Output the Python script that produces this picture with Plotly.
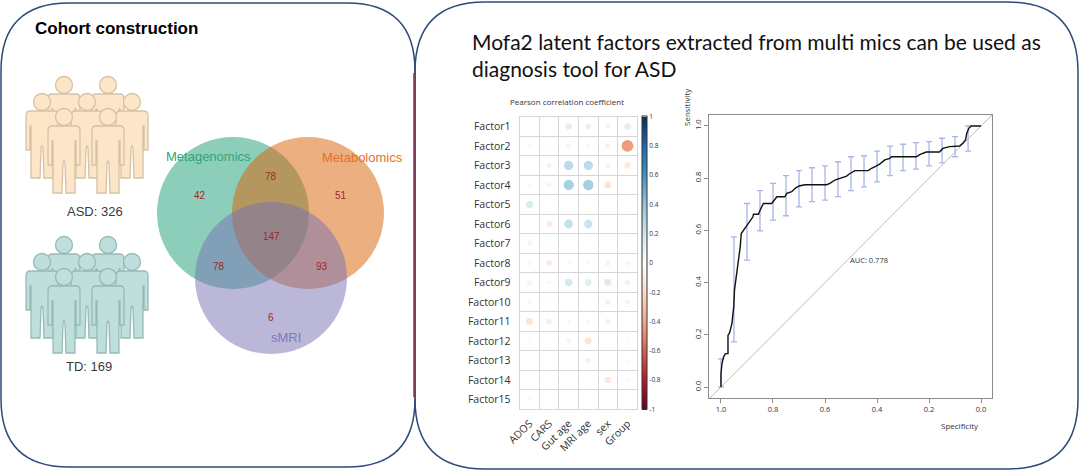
import math
import plotly.graph_objects as go

W, H = 1080, 471

# ---- data ----
factors = [f"Factor{i}" for i in range(1, 16)]
traits = ["ADOS", "CARS", "Gut age", "MRI age", "sex", "Group"]
pearson_r = [
    [0.01, 0.01, 0.12, 0.11, 0.08, 0.13],
    [0.05, -0.03, -0.07, -0.06, -0.09, -0.43],
    [0.02, 0.08, 0.27, 0.27, -0.08, -0.12],
    [-0.05, -0.07, 0.33, 0.34, -0.15, -0.01],
    [0.16, -0.02, 0.02, 0.0, 0.03, 0.0],
    [-0.04, -0.12, 0.24, 0.22, 0.02, 0.03],
    [-0.07, -0.04, -0.03, 0.0, 0.0, 0.0],
    [-0.06, -0.11, 0.05, 0.05, 0.08, 0.07],
    [-0.08, -0.05, 0.18, 0.14, 0.15, 0.09],
    [0.06, 0.03, 0.0, -0.03, 0.09, 0.07],
    [-0.15, -0.10, 0.05, 0.06, -0.09, -0.01],
    [-0.04, 0.0, -0.07, -0.15, 0.01, -0.04],
    [0.0, 0.02, -0.04, -0.09, 0.04, 0.04],
    [0.02, 0.02, 0.0, 0.0, -0.13, -0.04],
    [0.05, 0.02, 0.02, 0.01, -0.04, 0.0],
]

roc_spec = [1.0, 1.0, 0.996, 0.990, 0.983, 0.973, 0.973, 0.967, 0.958, 0.951,
            0.948, 0.939, 0.932, 0.926, 0.922, 0.913, 0.900, 0.888, 0.877, 0.875,
            0.856, 0.849, 0.837, 0.805, 0.798, 0.785, 0.754, 0.747, 0.728, 0.715,
            0.700, 0.677, 0.594, 0.581, 0.562, 0.543, 0.517, 0.504, 0.485, 0.434,
            0.421, 0.402, 0.390, 0.370, 0.351, 0.345, 0.249, 0.236, 0.211, 0.160,
            0.147, 0.121, 0.083, 0.070, 0.060, 0.055, 0.047, 0.038, 0.0]
roc_sens = [0.0, 0.05, 0.090, 0.115, 0.128, 0.128, 0.198, 0.207, 0.243, 0.307,
            0.371, 0.435, 0.486, 0.537, 0.588, 0.601, 0.620, 0.633, 0.652, 0.662,
            0.662, 0.678, 0.703, 0.703, 0.712, 0.729, 0.729, 0.742, 0.748, 0.761,
            0.770, 0.775, 0.775, 0.780, 0.793, 0.799, 0.808, 0.818, 0.829, 0.829,
            0.838, 0.847, 0.854, 0.870, 0.876, 0.882, 0.882, 0.890, 0.900, 0.900,
            0.914, 0.921, 0.923, 0.934, 0.946, 0.972, 0.991, 1.0, 1.0]
ci_spec = [1.0, 0.95, 0.9, 0.85, 0.8, 0.75, 0.7, 0.65, 0.6, 0.55,
           0.5, 0.45, 0.4, 0.35, 0.3, 0.25, 0.2, 0.15, 0.1, 0.05]
ci_low = [0.0, 0.173, 0.486, 0.598, 0.639, 0.656, 0.690, 0.710, 0.716, 0.729,
          0.752, 0.767, 0.786, 0.810, 0.829, 0.835, 0.847, 0.859, 0.882, 0.904]
ci_high = [0.108, 0.575, 0.703, 0.752, 0.780, 0.810, 0.829, 0.840, 0.847, 0.863,
           0.882, 0.886, 0.904, 0.923, 0.930, 0.936, 0.940, 0.953, 0.959, 1.0]
diag_spec = [1.06, -0.06]
diag_sens = [-0.06, 1.06]
auc = 0.778

venn_sets = ["Metagenomics", "Metabolomics", "sMRI"]
venn_counts = {"Mg": 42, "Mg&Mb": 78, "Mb": 51, "all": 147, "Mg&MRI": 78, "Mb&MRI": 93, "MRI": 6}
cohort = {"ASD": 326, "TD": 169}

RDBU = ["#67001F", "#B2182B", "#D6604D", "#F4A582", "#FDDBC7", "#FFFFFF",
        "#D1E5F0", "#92C5DE", "#4393C3", "#2166AC", "#053061"]

fig = go.Figure()

# ---- corrplot (circles, area ~ |r|) ----
cell = (409.3 - 116.7) / len(factors)
xs, ys, rs, sizes = [], [], [], []
for i, row in enumerate(pearson_r):
    for j, r in enumerate(row):
        xs.append(j)
        ys.append(i)
        rs.append(r)
        sizes.append(0.92 * cell * math.sqrt(abs(r)))

fig.add_trace(go.Scatter(
    x=xs, y=ys, mode="markers", xaxis="x", yaxis="y", showlegend=False,
    marker=dict(
        size=sizes, color=rs, cmin=-1, cmax=1,
        colorscale=[[k / 10, c] for k, c in enumerate(RDBU)],
        line=dict(width=0), opacity=1,
        showscale=True,
        colorbar=dict(
            thickness=5, len=292.6, lenmode="pixels",
            x=641.5 / W, xanchor="left", y=1 - 263 / H, yanchor="middle",
            xpad=0, ypad=0, outlinewidth=1, outlinecolor="#333",
            tickvals=[1, 0.8, 0.6, 0.4, 0.2, 0, -0.2, -0.4, -0.6, -0.8, -1],
            ticktext=["1", "0.8", "0.6", "0.4", "0.2", "0", "-0.2", "-0.4", "-0.6", "-0.8", "-1"],
            tickfont=dict(size=6.5, color="#333", family="Open Sans"),
            ticks="",
        ),
    ),
))

# ---- ROC ----
fig.add_trace(go.Scatter(
    x=diag_spec, y=diag_sens, mode="lines", xaxis="x2", yaxis="y2", showlegend=False,
    line=dict(color="#BDBDBD", width=1),
))
fig.add_trace(go.Scatter(
    x=ci_spec, y=[(a + b) / 2 for a, b in zip(ci_low, ci_high)],
    mode="markers", xaxis="x2", yaxis="y2", showlegend=False,
    marker=dict(size=1, opacity=0),
    error_y=dict(type="data", array=[(b - a) / 2 for a, b in zip(ci_low, ci_high)],
                 color="#A7B6E4", thickness=1.3, width=3),
))
fig.add_trace(go.Scatter(
    x=roc_spec, y=roc_sens, mode="lines", xaxis="x2", yaxis="y2", showlegend=False,
    line=dict(color="#111", width=1.4),
))

# ---- overlay canvas in pixel units ----
fig.add_trace(go.Scatter(x=[0], y=[0], xaxis="x3", yaxis="y3", mode="markers",
                         marker=dict(opacity=0), showlegend=False, hoverinfo="skip"))


def rounded_rect(x0, y0, x1, y1, r):
    return (f"M {x0 + r},{y0} L {x1 - r},{y0} Q {x1},{y0} {x1},{y0 + r} "
            f"L {x1},{y1 - r} Q {x1},{y1} {x1 - r},{y1} L {x0 + r},{y1} "
            f"Q {x0},{y1} {x0},{y1 - r} L {x0},{y0 + r} Q {x0},{y0} {x0 + r},{y0} Z")


def person(cx, hy):
    p = [(-12, 9), (-16, 14), (-16, 48), (-12, 48), (-12, 24), (-11, 24), (-11, 76),
         (-2, 76), (-1, 46), (0, 44), (1, 46), (2, 76), (11, 76), (11, 24), (12, 24),
         (12, 48), (16, 48), (16, 14), (12, 9)]
    s = f"M {cx + p[0][0]},{hy + p[0][1]} Q {cx - 16},{hy + 9} {cx + p[1][0]},{hy + p[1][1]} "
    for dx, dy in p[2:-1]:
        s += f"L {cx + dx},{hy + dy} "
    s += f"Q {cx + 16},{hy + 9} {cx + 12},{hy + 9} Z"
    return s


shapes = []
border = "#2F4A7A"
shapes.append(dict(type="path", path=rounded_rect(1, 3, 415, 467, 68), xref="x3", yref="y3",
                   line=dict(color=border, width=1.5)))
shapes.append(dict(type="path", path=rounded_rect(415, 2, 1078, 469, 70), xref="x3", yref="y3",
                   line=dict(color=border, width=1.5)))
shapes.append(dict(type="line", x0=413.8, x1=413.8, y0=73, y1=397, xref="x3", yref="y3",
                   line=dict(color="#E03030", width=1.3)))

crowd = [(64, 0), (108, 0), (42, 17), (87, 17), (132, 17), (64, 32), (108, 32)]
for top, fill, edge in [(85, "#FDE6C8", "#D5C2A4"), (245, "#BEDFDB", "#98BAB5")]:
    for cx, dy in crowd:
        hy = top + dy
        shapes.append(dict(type="path", path=person(cx, hy), xref="x3", yref="y3",
                           fillcolor=fill, line=dict(color=edge, width=1.3)))
        shapes.append(dict(type="circle", x0=cx - 8.5, x1=cx + 8.5, y0=hy - 8.5, y1=hy + 8.5,
                           xref="x3", yref="y3", fillcolor=fill, line=dict(color=edge, width=1.3)))

venn_circles = [(233, 213, "#1B9E77"), (308, 213, "#D95F02"), (271, 278, "#7570B3")]
for cx, cy, c in venn_circles:
    shapes.append(dict(type="circle", x0=cx - 76, x1=cx + 76, y0=cy - 76, y1=cy + 76,
                       xref="x3", yref="y3", fillcolor=c, opacity=0.5, line=dict(width=0)))

annotations = []


def txt(x, y, s, size, color="#222", family="Liberation Sans", **kw):
    annotations.append(dict(x=x, y=y, xref="x3", yref="y3", text=s, showarrow=False,
                            font=dict(size=size, color=color, family=family), **kw))


txt(33, 28, "<b>Cohort construction</b>", 17, "#000", xanchor="left")
txt(95, 211, f"ASD: {cohort['ASD']}", 13, "#3a3a3a")
txt(89, 366, f"TD: {cohort['TD']}", 13, "#3a3a3a")
txt(208, 156, venn_sets[0], 13, "#2FA57A")
txt(362, 157, venn_sets[1], 13, "#E5702A")
txt(286, 337, venn_sets[2], 13, "#7F79BD")
num_pos = {"Mg": (200, 195), "Mg&Mb": (271, 176), "Mb": (341, 195), "all": (271, 236),
           "Mg&MRI": (219, 266), "Mb&MRI": (322, 266), "MRI": (271, 317)}
for k, v in venn_counts.items():
    txt(num_pos[k][0], num_pos[k][1], str(v), 10, "#9E2A24")

txt(470, 55, "Mofa2 latent factors extracted from multi mics can be used as<br>diagnosis tool for ASD",
    21, "#111", family="Lato", xanchor="left", yanchor="middle", align="left")
txt(567, 101, "Pearson correlation coefficient", 8, "#333", family="Open Sans")
txt(686, 107, "Sensitivity", 8, "#333", family="Open Sans", textangle=-90)
txt(960, 425, "Specificity", 8, "#333", family="Open Sans")

annotations.append(dict(x=0.432, y=0.486, xref="x2", yref="y2", text=f"AUC: {auc}", showarrow=False,
                        font=dict(size=7.5, color="#333", family="Open Sans")))

fig.update_layout(
    width=W, height=H, margin=dict(l=0, r=0, t=0, b=0, pad=0, autoexpand=False),
    paper_bgcolor="white", plot_bgcolor="rgba(0,0,0,0)",
    shapes=shapes, annotations=annotations, showlegend=False,
    xaxis=dict(domain=[519.7 / W, 637.3 / W], range=[-0.5, 5.5], tickvals=list(range(6)),
               ticktext=traits, tickangle=-45, showgrid=False, zeroline=False,
               showline=True, mirror=True, linecolor="#D6D6D6", linewidth=1,
               minor=dict(tickvals=[k + 0.5 for k in range(5)], showgrid=True,
                          gridcolor="#D6D6D6", gridwidth=1),
               tickfont=dict(size=10.5, color="#333", family="Open Sans"),
               ticks="", ticklabelstandoff=3, fixedrange=True, automargin=False),
    yaxis=dict(domain=[1 - 409.3 / H, 1 - 116.7 / H], range=[14.5, -0.5], tickvals=list(range(15)),
               ticktext=factors, showgrid=False, zeroline=False,
               showline=True, mirror=True, linecolor="#D6D6D6", linewidth=1,
               minor=dict(tickvals=[k + 0.5 for k in range(14)], showgrid=True,
                          gridcolor="#D6D6D6", gridwidth=1),
               tickfont=dict(size=10.5, color="#333", family="Open Sans"),
               ticks="", ticklabelstandoff=6, fixedrange=True, automargin=False),
    xaxis2=dict(domain=[709 / W, 992 / W], range=[1.046, -0.042], anchor="y2",
                tickvals=[1, 0.8, 0.6, 0.4, 0.2, 0], tickformat=".1f",
                showgrid=False, zeroline=False, showline=True, mirror=True,
                linecolor="#8C8C8C", linewidth=1, ticks="outside", ticklen=4, tickcolor="#8C8C8C",
                tickfont=dict(size=7.5, color="#333", family="Open Sans"), automargin=False),
    yaxis2=dict(domain=[1 - 398 / H, 1 - 115 / H], range=[-0.042, 1.042], anchor="x2",
                tickvals=[0, 0.2, 0.4, 0.6, 0.8, 1], tickformat=".1f", tickangle=-90,
                showgrid=False, zeroline=False, showline=True, mirror=True,
                linecolor="#8C8C8C", linewidth=1, ticks="outside", ticklen=4, tickcolor="#8C8C8C",
                tickfont=dict(size=7.5, color="#333", family="Open Sans"), automargin=False),
    xaxis3=dict(domain=[0, 1], range=[0, W], visible=False, anchor="y3", fixedrange=True),
    yaxis3=dict(domain=[0, 1], range=[H, 0], visible=False, anchor="x3", fixedrange=True),
)

fig.write_html("out.html", config={"displayModeBar": False},
               post_script="document.body.style.margin='0';")
